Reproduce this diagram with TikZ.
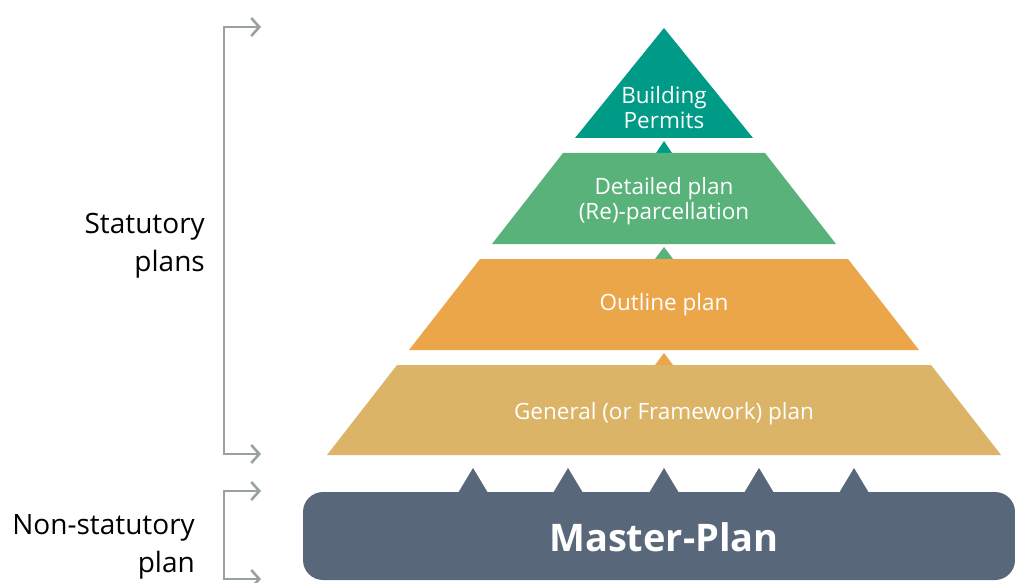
\documentclass[tikz,border=0pt]{standalone}
\usepackage{fontspec}
\setmainfont{Open Sans}
\usetikzlibrary{arrows.meta}
\definecolor{cteal}{RGB}{0,155,135}
\definecolor{cgreen}{RGB}{89,178,122}
\definecolor{corange}{RGB}{236,166,74}
\definecolor{ctan}{RGB}{219,180,103}
\definecolor{cmaster}{RGB}{88,104,122}
\definecolor{cbracket}{RGB}{152,162,162}
\tikzset{
  layertext/.style={text=white, align=center, font=\fontsize{22.5}{25}\selectfont, inner sep=0pt},
  sidetext/.style={text=black, align=right, font=\fontsize{28}{38}\selectfont, inner sep=0pt, anchor=east},
  bracket/.style={draw=cbracket, line width=2.6pt, -{Straight Barb[length=8pt,width=18pt,line width=2.6pt]}},
  bump/.style={fill=cmaster}
}
\begin{document}
\begin{tikzpicture}[x=1pt,y=-1pt]
\useasboundingbox (0,0) rectangle (1015,583);
% layers
\fill[cteal] (664,28) -- (753,138) -- (575,138) -- cycle;
\fill[cteal] (656,153) -- (664,141) -- (672,153) -- cycle;
\fill[cgreen] (563,153) -- (765,153) -- (836,244) -- (492,244) -- cycle;
\fill[cgreen] (655,259) -- (664,247) -- (673,259) -- cycle;
\fill[corange] (480,259) -- (848,259) -- (919,350) -- (409,350) -- cycle;
\fill[corange] (655,365) -- (664,353) -- (673,365) -- cycle;
\fill[ctan] (397,365) -- (931,365) -- (1001,455) -- (327,455) -- cycle;
% master plan
\fill[cmaster, rounded corners=20pt] (303,492) rectangle (1015,580);
\foreach \bx in {473,568,664,759,854}{
  \fill[bump] (\bx-15,493) -- (\bx,468) -- (\bx+15,493) -- cycle;
}
% texts
\node[layertext] (bp) at (664,108) {Building\\Permits};
\node[layertext] (dp) at (664,201) {Detailed plan\\(Re)-parcellation};
\node[layertext] (op) at (664,305) {Outline plan};
\node[layertext] (gp) at (664,414) {General (or Framework) plan};
\node[text=white, font=\bfseries\fontsize{38}{44}\selectfont, inner sep=0pt] (mp) at (664,537) {Master-Plan};
\node[sidetext] (st) at (205,246) {Statutory\\plans};
\node[sidetext] (ns) at (195,547) {Non-statutory\\plan};
% brackets
\coordinate (s1) at (224,27);
\coordinate (s1e) at (261,27);
\coordinate (s2) at (224,454);
\coordinate (s2e) at (261,454);
\coordinate (n1) at (224,491);
\coordinate (n1e) at (261,491);
\coordinate (n2) at (224,579);
\coordinate (n2e) at (261,579);
\draw[bracket] (s2) -- (s1) -- (s1e);
\draw[bracket] (s1) -- (s2) -- (s2e);
\draw[bracket] (n2) -- (n1) -- (n1e);
\draw[bracket] (n1) -- (n2) -- (n2e);
\end{tikzpicture}
\end{document}
